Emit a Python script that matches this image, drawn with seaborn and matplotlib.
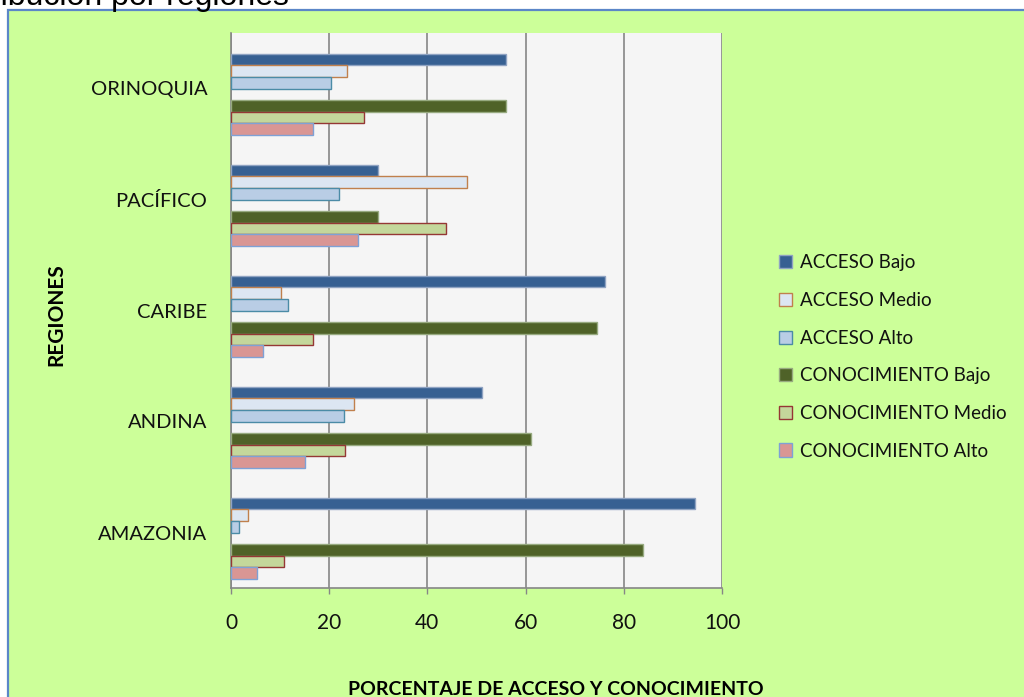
import matplotlib
matplotlib.use("Agg")
import matplotlib.pyplot as plt
from matplotlib.patches import Rectangle, Patch
from matplotlib.colors import to_hex
import numpy as np
import pandas as pd
import seaborn as sns

# ---------------- data ----------------
regiones = ["ORINOQUIA", "PACÍFICO", "CARIBE", "ANDINA", "AMAZONIA"]
series = ["ACCESO Bajo", "ACCESO Medio", "ACCESO Alto",
          "CONOCIMIENTO Bajo", "CONOCIMIENTO Medio", "CONOCIMIENTO Alto"]
acceso_bajo = [56.0, 30.0, 76.2, 51.2, 94.4]
acceso_medio = [23.6, 48.0, 10.2, 25.1, 3.5]
acceso_alto = [20.3, 22.0, 11.7, 23.0, 1.6]
conoc_bajo = [56.0, 30.0, 74.5, 61.1, 83.9]
conoc_medio = [27.0, 43.8, 16.7, 23.2, 10.8]
conoc_alto = [16.7, 25.9, 6.6, 15.0, 5.2]
xticks = [0, 20, 40, 60, 80, 100]

valores = [acceso_bajo, acceso_medio, acceso_alto, conoc_bajo, conoc_medio, conoc_alto]

# styles
fills = ["#376092", "#DCE6F2", "#B9CDE5", "#4F6228", "#C4D79B", "#D99694"]
edges = ["#8FA3C2", "#C0804D", "#4B8BA6", "#97AA80", "#953735", "#7EA1D6"]

# empty slots (Excel chart had empty series creating the gaps)
SP1, SP2 = "_sp1", "_sp2"
hue_order = [SP1] + series[:3] + [SP2] + series[3:]

rows = []
for s, vals in zip(series, valores):
    for r, v in zip(regiones, vals):
        rows.append({"region": r, "serie": s, "valor": v})
for s in (SP1, SP2):
    for r in regiones:
        rows.append({"region": r, "serie": s, "valor": 0.0})
df = pd.DataFrame(rows)

spacer_col = ["#010203", "#030201"]
palette = {s: c for s, c in zip(series, fills)}
palette[SP1] = spacer_col[0]
palette[SP2] = spacer_col[1]
edge_map = {f.lower(): e for f, e in zip(fills, edges)}

# ---------------- figure ----------------
W, H = 1024, 697
fig = plt.figure(figsize=(W / 100, H / 100), dpi=100, facecolor="white")

# green chart box with blue border
fig.patches.append(Rectangle((8 / W, -20 / H), 1.1, (H - 10 + 20) / H,
                             transform=fig.transFigure, facecolor="#CCFF99",
                             edgecolor="#5B86C8", linewidth=1.6, zorder=-10))

# cut off title (as in the reference)
fig.text(289 / W, (H - 5) / H, "Distribución por regiones", ha="right", va="baseline",
         fontsize=23, family="Liberation Sans", color="black")

ax = fig.add_axes([231 / W, 109 / H, 491 / W, 555 / H])
ax.set_zorder(5)
ax.set_facecolor("#F5F5F5")

sns.barplot(data=df, x="valor", y="region", hue="serie", hue_order=hue_order,
            order=regiones, orient="h", palette=palette, saturation=1,
            width=0.84, errorbar=None, legend=False, ax=ax, zorder=3)

for p in ax.patches:
    fc = to_hex(p.get_facecolor()).lower()
    if fc in spacer_col:
        p.set_visible(False)
        continue
    p.set_edgecolor(edge_map.get(fc, "none"))
    p.set_linewidth(1.0)

ax.set_xlim(0, 100)
ax.set_ylim(len(regiones) - 0.5, -0.5)
ax.set_xticks(xticks)
ax.set_xticklabels([str(t) for t in xticks])
ax.grid(axis="x", color="#868686", linewidth=1.2, zorder=1)
ax.grid(axis="y", visible=False)
ax.set_axisbelow(True)

for side in ["top", "right"]:
    ax.spines[side].set_visible(False)
for side in ["left", "bottom"]:
    ax.spines[side].set_color("#868686")
    ax.spines[side].set_linewidth(1.2)

lab_font = "Lato"
ax.tick_params(axis="x", length=4, width=1, color="#868686", pad=14,
               labelsize=15, labelcolor="#111111")
ax.tick_params(axis="y", length=0, pad=17, labelsize=14.5, labelcolor="#111111")
for t in ax.get_xticklabels() + ax.get_yticklabels():
    t.set_family(lab_font)
ax.set_xlabel("")
ax.set_ylabel("")

fig.text(56 / W, (H - 315) / H, "REGIONES", rotation=90, ha="center", va="center",
         fontsize=15, fontweight="bold", family=lab_font, color="black")
fig.text(556 / W, 2 / H, "PORCENTAJE DE ACCESO Y CONOCIMIENTO", ha="center",
         va="baseline", fontsize=14, fontweight="bold", family=lab_font, color="black")

handles = [Patch(facecolor=f, edgecolor=e, linewidth=1.0) for f, e in zip(fills, edges)]
leg = fig.legend(handles, series, loc="center left",
                 bbox_to_anchor=(779 / W, (H - 357) / H), frameon=False,
                 prop={"family": lab_font, "size": 13.5}, handlelength=0.7,
                 handleheight=0.7, handletextpad=0.4, labelspacing=1.1,
                 borderpad=0, borderaxespad=0)
for t in leg.get_texts():
    t.set_color("#111111")

fig.savefig("out.png", dpi=100, facecolor=fig.get_facecolor())
